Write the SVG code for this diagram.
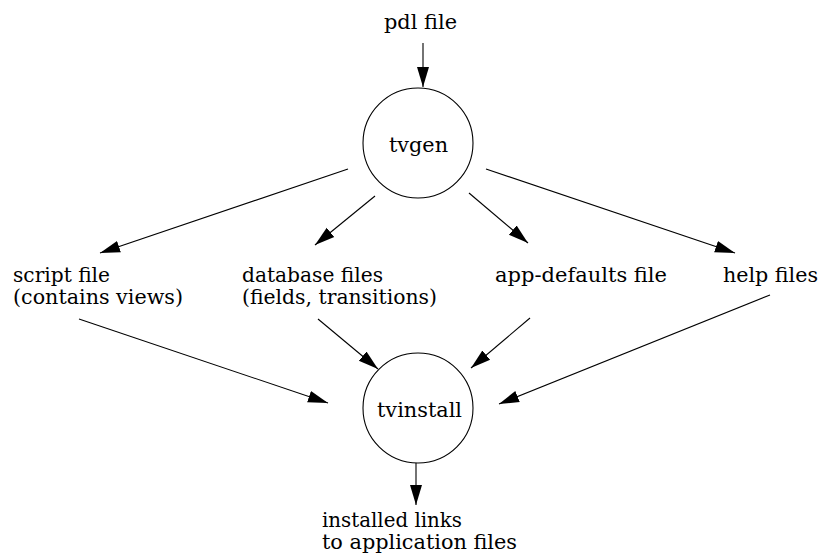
<svg xmlns="http://www.w3.org/2000/svg" width="825" height="557" viewBox="0 0 825 557">
  <style>
    .lbl { font-family: "DejaVu Serif", "Liberation Serif", serif; font-size: 21px; fill: #000; }
    .sm { font-size: 20px; }
    .node circle { fill: none; stroke: #000; stroke-width: 1.1; }
    .edges line { stroke: #000; stroke-width: 1.1; marker-end: url(#arrow); }
  </style>
  <defs>
    <marker id="arrow" markerUnits="userSpaceOnUse" markerWidth="22" markerHeight="14" viewBox="0 -7 22 14" refX="20" refY="0" orient="auto">
      <path d="M0,-6 L20,0 L0,6 Z" fill="#000"/>
    </marker>
  </defs>
  <rect width="825" height="557" fill="#fff"/>

  <!-- inputs and outputs -->
  <g id="pdl-file"><text class="lbl" x="384" y="29" textLength="73" lengthAdjust="spacingAndGlyphs">pdl file</text></g>

  <g id="tvgen" class="node">
    <circle cx="418" cy="143" r="55"/>
    <text class="lbl" x="389" y="152" textLength="59" lengthAdjust="spacingAndGlyphs">tvgen</text>
  </g>

  <g id="script-file">
    <text class="lbl sm">
      <tspan x="13" y="282" textLength="97" lengthAdjust="spacingAndGlyphs">script file</tspan>
      <tspan x="13" y="304" textLength="170" lengthAdjust="spacingAndGlyphs">(contains views)</tspan>
    </text>
  </g>

  <g id="database-files">
    <text class="lbl sm">
      <tspan x="242" y="282" textLength="141" lengthAdjust="spacingAndGlyphs">database files</tspan>
      <tspan x="242" y="304" textLength="195" lengthAdjust="spacingAndGlyphs">(fields, transitions)</tspan>
    </text>
  </g>

  <g id="app-defaults-file"><text class="lbl" x="495" y="282" textLength="172" lengthAdjust="spacingAndGlyphs">app-defaults file</text></g>

  <g id="help-files"><text class="lbl" x="723" y="282" textLength="95" lengthAdjust="spacingAndGlyphs">help files</text></g>

  <g id="tvinstall" class="node">
    <circle cx="418" cy="408" r="55"/>
    <text class="lbl" x="377" y="417" textLength="85" lengthAdjust="spacingAndGlyphs">tvinstall</text>
  </g>

  <g id="installed-links">
    <text class="lbl">
      <tspan x="322" y="527" textLength="140" lengthAdjust="spacingAndGlyphs">installed links</tspan>
      <tspan x="322" y="549" textLength="195" lengthAdjust="spacingAndGlyphs">to application files</tspan>
    </text>
  </g>

  <!-- connectors -->
  <g id="connectors" class="edges">
    <line x1="423" y1="43" x2="423" y2="87"/>
    <line x1="348" y1="169" x2="100" y2="253"/>
    <line x1="375" y1="196" x2="315" y2="245"/>
    <line x1="469" y1="193" x2="528" y2="243"/>
    <line x1="486" y1="169" x2="735" y2="253"/>
    <line x1="79" y1="319" x2="328" y2="403"/>
    <line x1="318" y1="319" x2="378" y2="369"/>
    <line x1="530" y1="318" x2="471" y2="368"/>
    <line x1="770" y1="295" x2="499" y2="404"/>
    <line x1="416" y1="463" x2="416" y2="505"/>
  </g>
</svg>
